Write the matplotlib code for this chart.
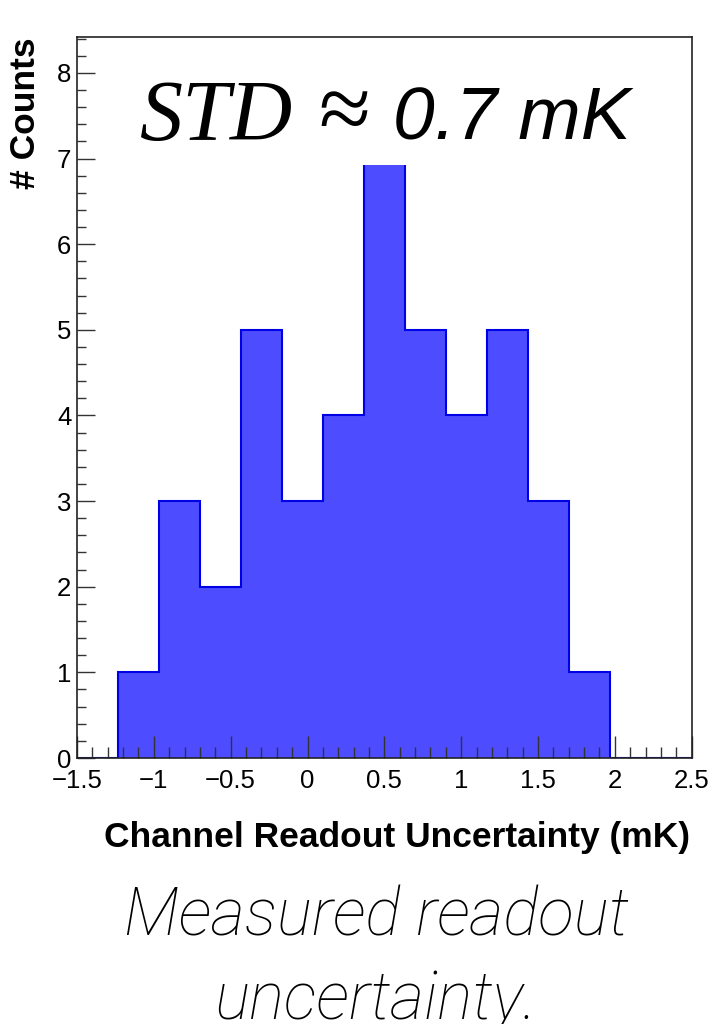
import numpy as np
import matplotlib
matplotlib.use("Agg")
import matplotlib.pyplot as plt
from matplotlib.ticker import MultipleLocator
from matplotlib.patches import Rectangle

# data
bin_lo, bin_hi, n_bins = -1.5, 2.5, 15
counts = [0, 1, 3, 2, 5, 3, 4, 7, 5, 4, 5, 3, 1, 0, 0]
xticks = [-1.5, -1, -0.5, 0, 0.5, 1, 1.5, 2, 2.5]
xticklabels = ["\u22121.5", "\u22121", "\u22120.5", "0", "0.5", "1", "1.5", "2", "2.5"]
yticks = [0, 1, 2, 3, 4, 5, 6, 7, 8]

edges = np.linspace(bin_lo, bin_hi, n_bins + 1)

fig = plt.figure(figsize=(7.13, 10.24), dpi=100)
ax = fig.add_axes([77/713, 1-758/1024, (691.7-77)/713, (758-37)/1024])

ax.stairs(counts, edges, fill=True, color="#4d4dff", linewidth=0, zorder=1)
ax.stairs(counts, edges, fill=False, color="#0000e6", linewidth=1.5, baseline=0, zorder=1.5)

# white annotation box covering the top of the plot area
ax.add_patch(Rectangle((0.094, 0.8225), 0.822, 0.17, transform=ax.transAxes,
                       facecolor="white", edgecolor="none", zorder=2.1))

ax.set_xlim(bin_lo, bin_hi)
ax.set_ylim(0, 8.42)
ax.set_xticks(xticks)
ax.set_xticklabels(xticklabels)
ax.set_yticks(yticks)
ax.xaxis.set_minor_locator(MultipleLocator(0.1))
ax.yaxis.set_minor_locator(MultipleLocator(0.2))
ax.tick_params(which="both", direction="in", top=False, right=False, color="#333333", width=1.0)
ax.tick_params(axis="x", which="major", length=16, pad=8)
ax.tick_params(axis="x", which="minor", length=8)
ax.tick_params(axis="y", which="major", length=13, pad=4)
ax.tick_params(axis="y", which="minor", length=6.5)
for lab in ax.get_xticklabels() + ax.get_yticklabels():
    lab.set_fontfamily("Liberation Sans")
    lab.set_fontsize(18.5)
for sp in ax.spines.values():
    sp.set_linewidth(1.2)
    sp.set_color("#222222")
    sp.set_zorder(3)

fig.text(0.036, 1-37/1024, "# Counts", rotation=90, ha="center", va="top",
         fontfamily="Liberation Sans", fontweight="bold", fontsize=25.5)
fig.text(690/713, 1-838/1024, "Channel Readout Uncertainty (mK)", ha="right", va="center",
         fontfamily="Liberation Sans", fontweight="bold", fontsize=25.5)

# annotation
fig.text(140/713, 1-140/1024, "STD", ha="left", va="baseline",
         fontfamily="Liberation Serif", style="italic", fontsize=62)
fig.text(344/713, 1-140/1024, "\u2248", ha="center", va="baseline",
         fontfamily="Liberation Serif", fontsize=68)
fig.text(393/713, 1-140/1024, "0.7 mK", ha="left", va="baseline",
         fontfamily="Liberation Sans", style="italic", fontsize=54)

fig.text(376/713, 1-935/1024, "Measured readout", ha="center", va="baseline",
         fontfamily="Roboto", fontweight="light", style="italic", fontsize=47.5)
fig.text(376/713, 1-1020/1024, "uncertainty.", ha="center", va="baseline",
         fontfamily="Roboto", fontweight="light", style="italic", fontsize=47.5)

fig.savefig("out.png", dpi=100)
